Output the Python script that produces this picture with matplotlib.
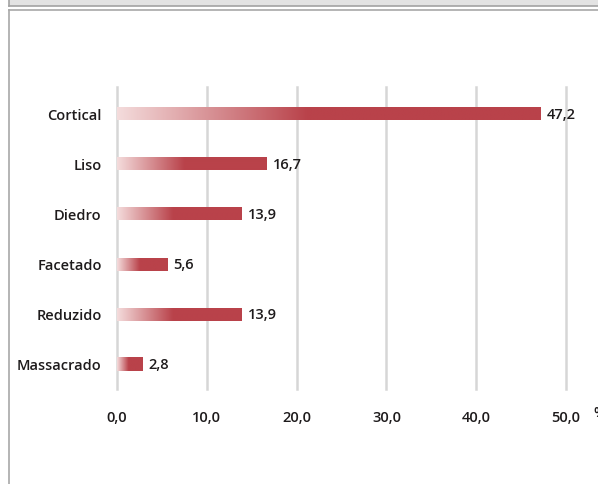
import matplotlib.pyplot as plt
import numpy as np
from matplotlib.colors import to_rgb
from matplotlib.patches import Rectangle

#=== DATA ===#

categories = ['Cortical', 'Liso', 'Diedro', 'Facetado', 'Reduzido', 'Massacrado']
values = [47.2, 16.7, 13.9, 5.6, 13.9, 2.8]
xticks = [0, 10, 20, 30, 40, 50]

#=== STYLE ===#

plt.rcParams['font.family'] = ['Open Sans', 'DejaVu Sans']
plt.rcParams['font.weight'] = 'semibold'
text_col = '#1e1b1c'
red = np.array(to_rgb('#b9424a'))
pale = np.array(to_rgb('#f4dcdc'))
W, H = 598, 485

fig = plt.figure(figsize=(W / 100, H / 100), dpi=100)

# window frame drawn in pixel coords
bg = fig.add_axes([0, 0, 1, 1])
bg.set_xlim(0, W)
bg.set_ylim(H, 0)
bg.axis('off')
bg.add_patch(Rectangle((9, 0), W - 9, 7, color='#e3e3e3', lw=0))
bg.plot([9, W], [7, 7], color='#a3a3a3', lw=1.2)
bg.plot([9, 9], [0, 7], color='#a3a3a3', lw=1.2)
bg.plot([9, W], [11, 11], color='#a8a8a8', lw=1.2)
bg.plot([9, 9], [11, H], color='#a8a8a8', lw=1.2)

# plot area: 0 -> x=117px, 50 -> x=566px; grid spans y 88..390px
left, right, top, bottom = 117, 566, 88, 390
ax = fig.add_axes([left / W, 1 - bottom / H, (right - left) / W, (bottom - top) / H])
ax.set_facecolor('none')
for s in ax.spines.values():
    s.set_visible(False)

for xt in xticks:
    ax.axvline(xt, color='#d6d6d6', lw=1.8, zorder=0, clip_on=False)

# gradient bars: pale -> red over the first 45% of each bar
bar_h = 0.26
t = np.linspace(0, 1, 300)
ramp = np.clip(t / 0.45, 0, 1)
grad = (pale[None, :] * (1 - ramp[:, None]) + red[None, :] * ramp[:, None])[None, :, :]
ypos = np.arange(len(categories))
for y, v in zip(ypos, values):
    ax.imshow(grad, extent=[0, v, y + bar_h / 2, y - bar_h / 2], aspect='auto',
              interpolation='bilinear', zorder=2)
    ax.text(v + 0.7, y, f'{v:.1f}'.replace('.', ','), va='center', ha='left',
            fontsize=10.5, color=text_col)

ax.set_xlim(0, 50)
ax.set_ylim(5.5, -0.54)
ax.set_yticks(ypos)
ax.set_yticklabels(categories, fontsize=10.5, color=text_col)
ax.set_xticks(xticks)
ax.set_xticklabels([f'{x:.1f}'.replace('.', ',') for x in xticks], fontsize=10.5, color=text_col)
ax.tick_params(axis='y', length=0, pad=11)
ax.tick_params(axis='x', length=0, pad=15)
ax.text(53.0, 5.5 + 23 / 50, '%', fontsize=10.5, color=text_col, va='center', ha='left',
        clip_on=False)

fig.savefig('out.png', dpi=100)
